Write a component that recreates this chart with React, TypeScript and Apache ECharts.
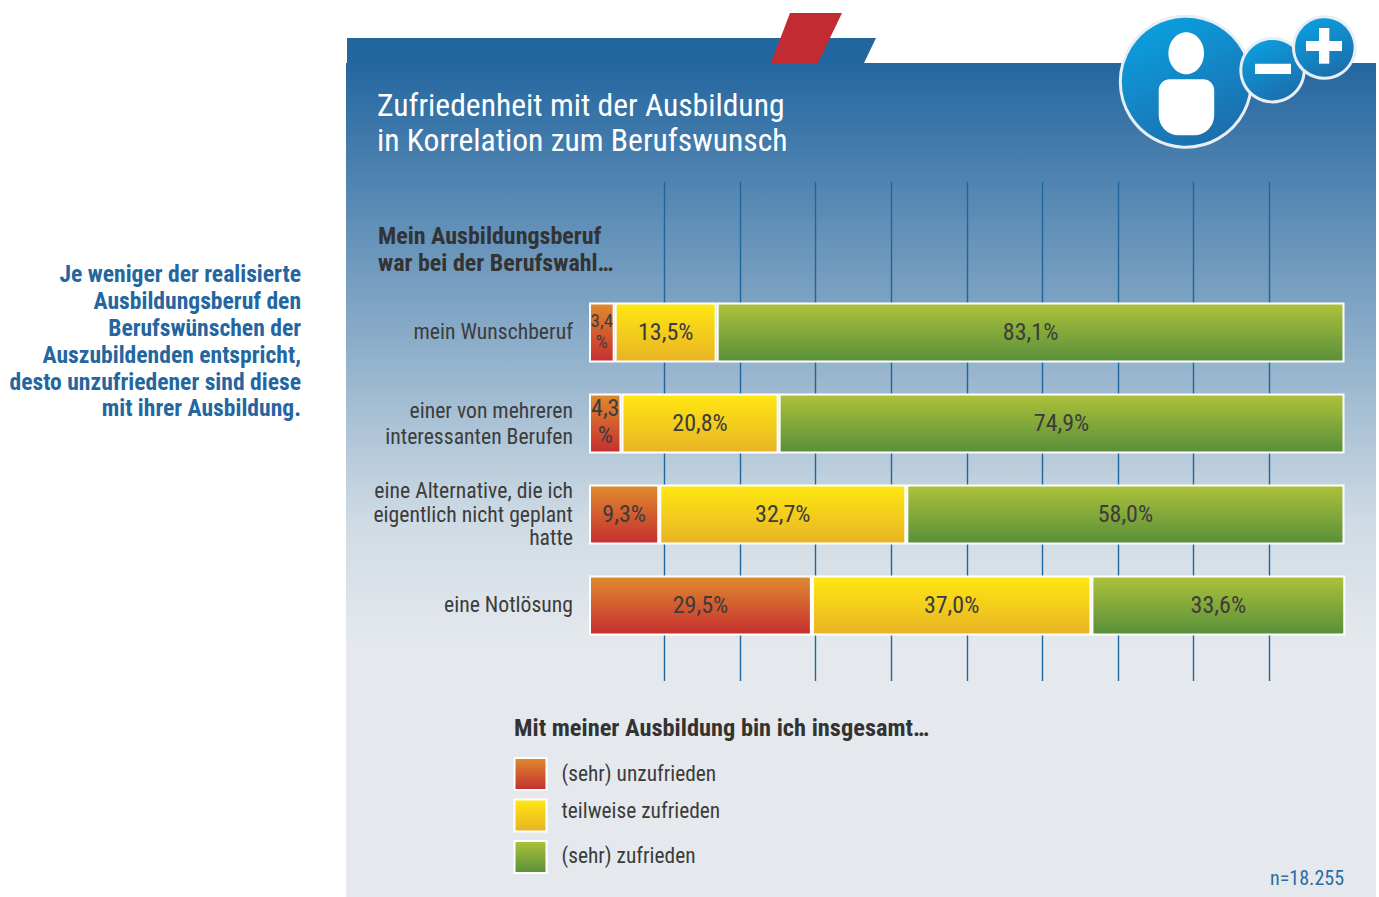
import React, { useEffect, useRef } from "react";
import * as echarts from "echarts";

const categories = [
  "mein Wunschberuf",
  "einer von mehreren\ninteressanten Berufen",
  "eine Alternative, die ich\neigentlich nicht geplant\nhatte",
  "eine Notlösung",
];
const lineHeights = [26, 27, 24, 26];
const labelLift = [2, 2, 2, 2];
const seriesNames = ["(sehr) unzufrieden", "teilweise zufrieden", "(sehr) zufrieden"];
const legendLift = [2, 10, 4];
const unzufrieden = [3.4, 4.3, 9.3, 29.5];
const teilweise = [13.5, 20.8, 32.7, 37.0];
const zufrieden = [83.1, 74.9, 58.0, 33.6];
const titleLines = "Zufriedenheit mit der Ausbildung\nin Korrelation zum Berufswunsch";
const subtitleLines = "Mein Ausbildungsberuf\nwar bei der Berufswahl…";
const legendTitle = "Mit meiner Ausbildung bin ich insgesamt…";
const sideNote = "Je weniger der realisierte\nAusbildungsberuf den\nBerufswünschen der\nAuszubildenden entspricht,\ndesto unzufriedener sind diese\nmit ihrer Ausbildung.";
const sampleNote = "n=18.255";

const FONT = '"Roboto Condensed", "Liberation Sans", sans-serif';
const INK = "#3c3c3c";
const grad = (a: string, b: string) => ({
  type: "linear", x: 0, y: 0, x2: 0, y2: 1,
  colorStops: [{ offset: 0, color: a }, { offset: 1, color: b }],
});
const seriesColors = [grad("#e08a2e", "#c52f30"), grad("#ffe812", "#e8b325"), grad("#aec23a", "#588f3a")];
const fmt = (v: number) => v.toFixed(1).replace(".", ",");

export default function App() {
  const ref = useRef<HTMLDivElement>(null);
  useEffect(() => {
    document.body.style.margin = "0";
    document.body.style.overflow = "hidden";
    const chart = echarts.init(ref.current!, null, { renderer: "svg" });
    const iconGrad = new echarts.graphic.LinearGradient(0.25, 0, 0.75, 1, [
      { offset: 0, color: "#0aa0e0" },
      { offset: 1, color: "#1e6ba9" },
    ]);
    const values = [unzufrieden, teilweise, zufrieden];
    const axisRich: Record<string, object> = {};
    lineHeights.forEach((lh, i) => {
      axisRich[`n${i}`] = { fontSize: 21.7, color: INK, fontFamily: FONT, lineHeight: lh, align: "right" };
      axisRich[`b${i}`] = { fontSize: 21.7, color: INK, fontFamily: FONT, lineHeight: lh, align: "right", padding: [0, 0, labelLift[i], 0] };
    });
    const legendRich: Record<string, object> = {};
    legendLift.forEach((p, i) => {
      legendRich[`s${i}`] = { fontSize: 21.4, color: INK, fontFamily: FONT, lineHeight: 24, padding: [0, 0, p, 10] };
    });
    chart.setOption({
      animation: false,
      textStyle: { fontFamily: FONT },
      grid: [
        { left: 589, width: 755.5, top: 287, height: 364 },
        { left: 589, width: 755.5, top: 182, height: 499 },
      ],
      xAxis: [
        { type: "value", gridIndex: 0, min: 0, max: 100, show: false },
        {
          type: "value", gridIndex: 1, min: 0, max: 100, interval: 10,
          axisLine: { show: false }, axisTick: { show: false }, axisLabel: { show: false },
          splitLine: { show: true, showMinLine: false, showMaxLine: false, lineStyle: { color: "#1f669f", width: 1.4 } },
        },
      ],
      yAxis: [
        {
          type: "category", gridIndex: 0, inverse: true, data: categories,
          axisLine: { show: false }, axisTick: { show: false },
          axisLabel: {
            margin: 16, align: "right", rich: axisRich,
            formatter: (v: string) => {
              const idx = categories.indexOf(v);
              const ls = v.split("\n");
              return ls.map((l, i) => `{${i === ls.length - 1 ? "b" : "n"}${idx}|${l}}`).join("\n");
            },
          },
        },
        { type: "value", gridIndex: 1, min: 0, max: 1, show: false },
      ],
      legend: {
        left: 513.5, top: 757, padding: 0, orient: "vertical", icon: "rect", itemWidth: 32, itemHeight: 32, itemGap: 7.5,
        formatter: (n: string) => `{s${seriesNames.indexOf(n)}|${n}}`,
        textStyle: { rich: legendRich, color: INK, fontFamily: FONT },
        data: seriesNames,
      },
      series: seriesNames.map((name, s) => ({
        type: "bar", name, stack: "total", xAxisIndex: 0, yAxisIndex: 0, barWidth: 60,
        itemStyle: { color: seriesColors[s], borderColor: "#ffffff", borderWidth: 2 },
        label: { show: true, position: "inside", color: INK, fontSize: 24, fontFamily: FONT, lineHeight: 27, offset: [0, -1] },
        data: values[s].map((v) => ({
          value: v,
          label: {
            formatter: v < 5 ? `${fmt(v)}\n%` : `${fmt(v)}%`,
            fontSize: v < 4 ? 19 : 24,
            lineHeight: v < 4 ? 21 : 27,
            offset: [0, v < 5 ? -2 : -1],
          },
        })),
      })),
      graphic: [
        { type: "rect", z: -5, shape: { x: 346, y: 63, width: 1030, height: 834 },
          style: { fill: new echarts.graphic.LinearGradient(0, 0, 0, 1, [
            { offset: 0, color: "#24669f" }, { offset: 0.55, color: "#cfdbe4" }, { offset: 0.7, color: "#e5e9ed" }, { offset: 1, color: "#e5e9ed" },
          ]) } },
        { type: "polygon", z: -5, shape: { points: [[347, 38], [876, 38], [864, 63], [347, 63]] }, style: { fill: "#22669f" } },
        { type: "polygon", z: -4, shape: { points: [[790, 13], [842, 13], [818, 63], [771, 63]] }, style: { fill: "#c32b33" } },
        { type: "text", x: 377, y: 88, z: 5, style: { text: titleLines, fill: "#ffffff", font: `31.6px ${FONT}`, lineHeight: 35 } },
        { type: "text", x: 378, y: 222, z: 5, style: { text: subtitleLines, fill: "#333333", font: `bold 24px ${FONT}`, lineHeight: 27 } },
        { type: "text", x: 514, y: 714, z: 5, style: { text: legendTitle, fill: "#333333", font: `bold 24.4px ${FONT}`, lineHeight: 27 } },
        { type: "text", x: 301, y: 261, z: 5, style: { text: sideNote, fill: "#24669f", font: `bold 23.6px ${FONT}`, lineHeight: 26.8, align: "right" } },
        { type: "text", x: 1344, y: 868, z: 5, style: { text: sampleNote, fill: "#2a6ca5", font: `20px ${FONT}`, align: "right" } },
        { type: "circle", z: 6, shape: { cx: 1185.8, cy: 81.7, r: 65.5 }, style: { fill: iconGrad, stroke: "#e8eef3", lineWidth: 3 } },
        { type: "ellipse", z: 7, shape: { cx: 1186.2, cy: 53.3, rx: 17.8, ry: 21 }, style: { fill: "#ffffff" } },
        { type: "rect", z: 7, shape: { x: 1158.7, y: 79.3, width: 55.5, height: 56, r: [11, 11, 20, 20] }, style: { fill: "#ffffff" } },
        { type: "circle", z: 8, shape: { cx: 1272.5, cy: 70.2, r: 31.7 }, style: { fill: iconGrad, stroke: "#e8eef3", lineWidth: 3 } },
        { type: "rect", z: 9, shape: { x: 1255, y: 63.7, width: 36, height: 10.3 }, style: { fill: "#ffffff" } },
        { type: "circle", z: 10, shape: { cx: 1324.3, cy: 47.5, r: 30.8 }, style: { fill: iconGrad, stroke: "#e8eef3", lineWidth: 3 } },
        { type: "rect", z: 11, shape: { x: 1306, y: 41, width: 36, height: 10 }, style: { fill: "#ffffff" } },
        { type: "rect", z: 11, shape: { x: 1319, y: 28, width: 10.3, height: 35.7 }, style: { fill: "#ffffff" } },
      ],
    });
    return () => chart.dispose();
  }, []);
  return <div ref={ref} style={{ width: 1379, height: 897 }} />;
}
